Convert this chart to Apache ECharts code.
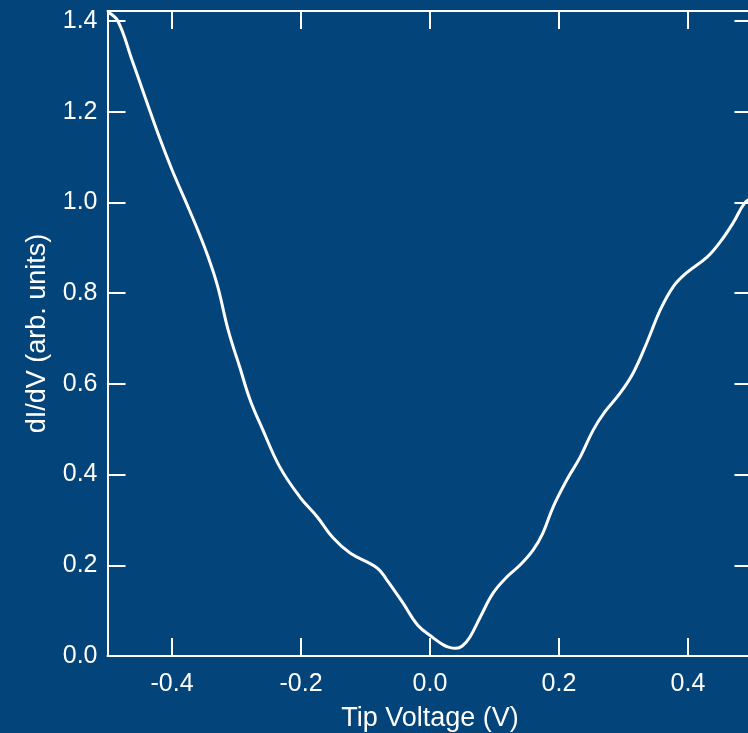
<!DOCTYPE html>
<html>
<head>
<meta charset="utf-8">
<script src="https://cdn.jsdelivr.net/npm/echarts@6/dist/echarts.min.js"></script>
<style>
  html, body { margin: 0; padding: 0; background: #03447a; }
  #chart { width: 748px; height: 733px; }
</style>
</head>
<body>
<div id="chart"></div>
<script>
// tip voltage (V) and dI/dV
const volts = [-0.5, -0.484, -0.462, -0.442, -0.422, -0.4, -0.38, -0.36, -0.344, -0.329,
  -0.313, -0.295, -0.279, -0.259, -0.233, -0.202, -0.175, -0.15, -0.124, -0.082,
  -0.067, -0.042, -0.019, 0.005, 0.02, 0.03, 0.04, 0.05, 0.062, 0.078, 0.098,
  0.119, 0.14, 0.16, 0.175, 0.191, 0.212, 0.233, 0.253, 0.271, 0.295,
  0.315, 0.336, 0.357, 0.377, 0.398, 0.43, 0.45, 0.47, 0.488, 0.5];
const didv = [1.42, 1.40, 1.314, 1.233, 1.153, 1.072, 1.006, 0.939, 0.88, 0.814,
  0.719, 0.637, 0.565, 0.498, 0.417, 0.351, 0.307, 0.26, 0.227, 0.194,
  0.168, 0.117, 0.068, 0.04, 0.025, 0.019, 0.017, 0.022, 0.042, 0.086, 0.139,
  0.174, 0.201, 0.234, 0.271, 0.329, 0.388, 0.439, 0.498, 0.538, 0.58,
  0.624, 0.69, 0.763, 0.814, 0.845, 0.88, 0.913, 0.955, 0.999, 1.01];
const xTicks = [-0.4, -0.2, 0.0, 0.2, 0.4];
const yTicks = [0.0, 0.2, 0.4, 0.6, 0.8, 1.0, 1.2, 1.4];

const xMin = -0.5, xMax = 0.5, yMin = 0, yMax = 1.422;
const white = '#ffffff';
const font = 'Liberation Sans';

const pts = volts.map((v, i) => [v, didv[i]]);

function axisBase(ticks) {
  return {
    type: 'value',
    splitLine: { show: false },
    axisLine: { show: true, onZero: false, lineStyle: { color: white, width: 2 } },
    axisTick: { show: true, inside: true, length: 18, customValues: ticks,
      lineStyle: { color: white, width: 2 } }
  };
}

const chart = echarts.init(document.getElementById('chart'));
chart.setOption({
  backgroundColor: '#03447a',
  animation: false,
  grid: { left: 107.5, top: 11, width: 645, height: 645, containLabel: false,
    outerBoundsMode: 'none' },
  xAxis: [
    Object.assign(axisBase(xTicks), {
      position: 'bottom', min: xMin, max: xMax,
      name: 'Tip Voltage (V)', nameLocation: 'middle', nameGap: 49,
      nameTextStyle: { color: white, fontSize: 27, fontFamily: font },
      axisLabel: { show: true, customValues: xTicks, margin: 16, color: white,
        fontSize: 25, fontFamily: font, formatter: v => v.toFixed(1) }
    }),
    Object.assign(axisBase(xTicks), {
      position: 'top', min: xMin, max: xMax, axisLabel: { show: false }
    })
  ],
  yAxis: [
    Object.assign(axisBase(yTicks), {
      position: 'left', min: yMin, max: yMax,
      name: 'dI/dV (arb. units)', nameLocation: 'middle', nameGap: 56,
      nameTextStyle: { color: white, fontSize: 27, fontFamily: font },
      axisLabel: { show: true, customValues: yTicks, margin: 10, color: white,
        fontSize: 25, fontFamily: font, formatter: v => v.toFixed(1) }
    }),
    Object.assign(axisBase(yTicks), {
      position: 'right', min: yMin, max: yMax, axisLabel: { show: false }
    })
  ],
  series: [{
    type: 'line',
    data: pts,
    showSymbol: false,
    smooth: 0.4,
    clip: true,
    lineStyle: { color: white, width: 3 }
  }]
});
</script>
</body>
</html>
